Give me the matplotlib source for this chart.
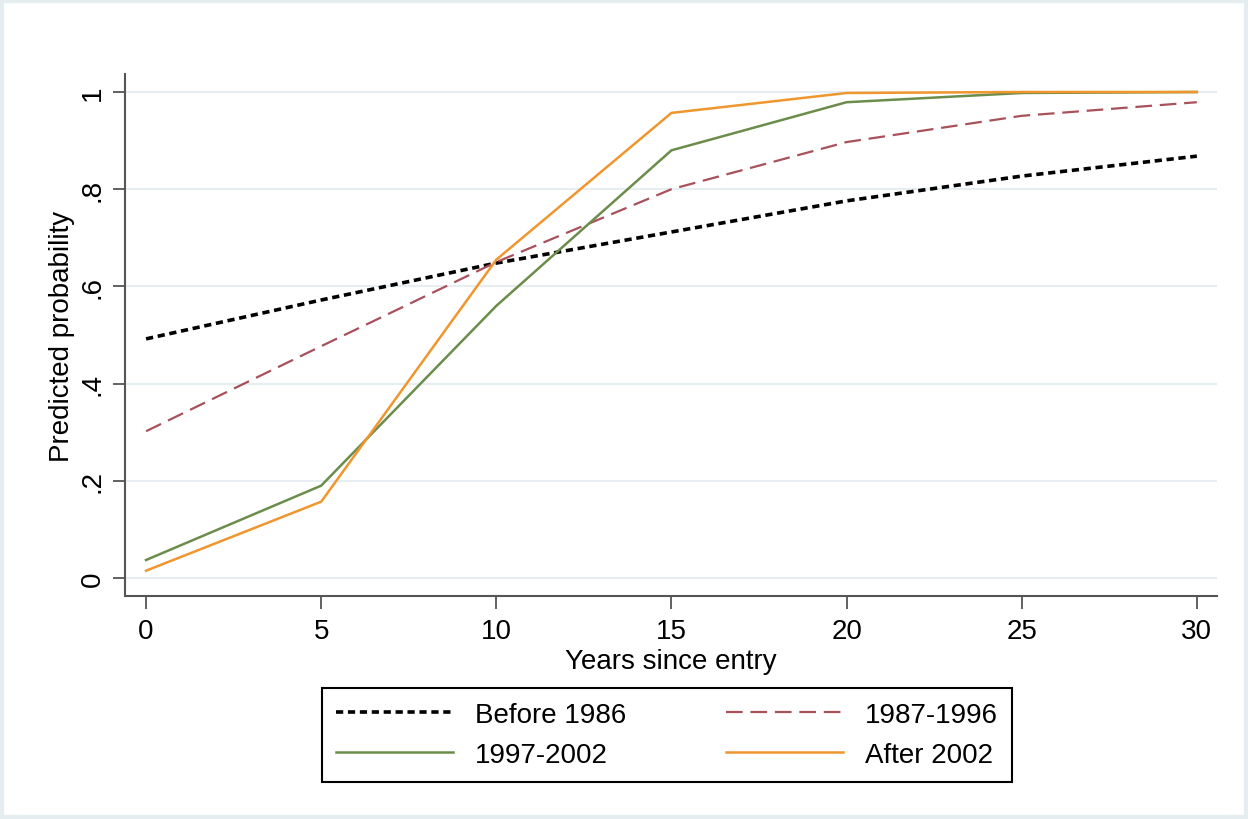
import matplotlib.pyplot as plt
from matplotlib.patches import Rectangle

plt.rcParams['font.family'] = ['Liberation Sans', 'DejaVu Sans']

years = [0, 5, 10, 15, 20, 25, 30]
before_1986 = [0.492, 0.572, 0.648, 0.712, 0.776, 0.827, 0.868]
p1987_1996 = [0.302, 0.477, 0.650, 0.800, 0.897, 0.951, 0.979]
p1997_2002 = [0.037, 0.190, 0.560, 0.880, 0.979, 0.998, 1.000]
after_2002 = [0.015, 0.157, 0.655, 0.957, 0.998, 1.000, 1.000]

yticks = [0, 0.2, 0.4, 0.6, 0.8, 1.0]
ytick_labels = ['0', '.2', '.4', '.6', '.8', '1']
xticks = [0, 5, 10, 15, 20, 25, 30]

fig = plt.figure(figsize=(12.48, 8.2), dpi=100)
ax = fig.add_axes([0.1002, 0.272, 0.8748, 0.6365])

l1, = ax.plot(years, before_1986, color='black', lw=2.6, dashes=(2.0, 1.3),
              label='Before 1986')
l2, = ax.plot(years, p1987_1996, color='#a9515a', lw=1.6, dashes=(7.5, 3.5),
              label='1987-1996')
l3, = ax.plot(years, p1997_2002, color='#6b8d4b', lw=1.8, label='1997-2002')
l4, = ax.plot(years, after_2002, color='#f0962e', lw=1.8, label='After 2002')

ax.set_xlim(-0.6, 30.57)
ax.set_ylim(-0.037, 1.037)
ax.set_xticks(xticks)
ax.set_yticks(yticks)
ax.set_yticklabels(ytick_labels, rotation=90, va='center')
for y in yticks:
    ax.axhline(y, color='#e6eef2', lw=1.5, zorder=0)

for s in ['top', 'right']:
    ax.spines[s].set_visible(False)
for s in ['left', 'bottom']:
    ax.spines[s].set_color('#555555')
    ax.spines[s].set_linewidth(1.5)
ax.tick_params(axis='both', length=9, width=1.3, color='#555555',
               labelsize=20, pad=5)
ax.tick_params(axis='x', pad=7)

ax.set_xlabel('Years since entry', fontsize=20, labelpad=3)
ax.set_ylabel('Predicted probability', fontsize=20, labelpad=3)

# row-wise order like the original: fill columns as [l1, l3], [l2, l4]
leg = fig.legend([l1, l3, l2, l4],
                 [l.get_label() for l in [l1, l3, l2, l4]],
                 loc='center', bbox_to_anchor=(0.258, 0.0463, 0.5529, 0.1122),
                 mode='expand', borderaxespad=0, ncol=2,
                 fontsize=20, handlelength=4.2, handletextpad=0.8,
                 columnspacing=1.5, labelspacing=0.5, fancybox=False,
                 framealpha=1, edgecolor='black', borderpad=0.5)
leg.get_frame().set_linewidth(1.5)

fig.patches.append(Rectangle((0.002, 0.002), 0.996, 0.996,
                             transform=fig.transFigure, fill=False,
                             edgecolor='#e6edf1', lw=3))

fig.savefig('out.png', dpi=100)
